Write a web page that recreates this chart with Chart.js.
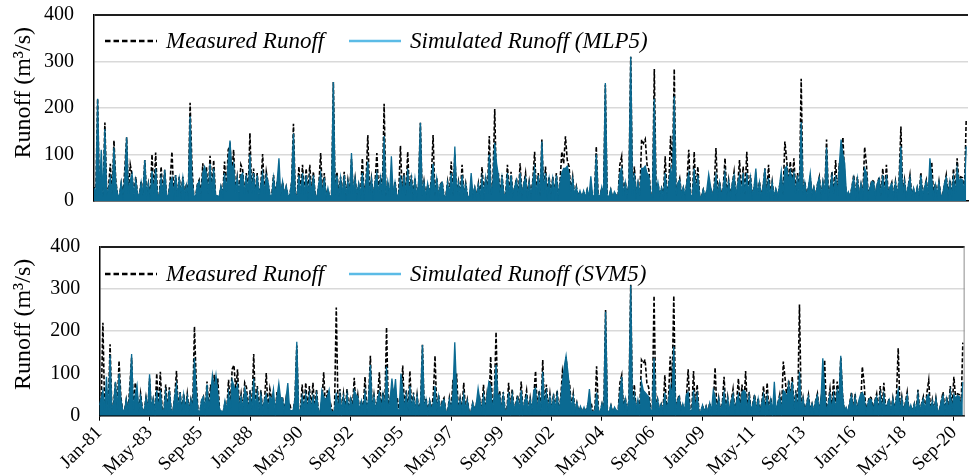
<!DOCTYPE html>
<html><head><meta charset="utf-8">
<script src="https://cdn.jsdelivr.net/npm/chart.js@4.4.1/dist/chart.umd.min.js"></script>
<style>
html,body{margin:0;padding:0;background:#fff;}
#wrap{position:relative;width:971px;height:476px;overflow:hidden;font-family:'Liberation Serif','Times New Roman',serif;}
.panel{position:absolute;left:0;width:971px;}
#p1{top:0;height:225px}
#p2{top:225px;height:251px}
canvas{display:block}
.legend{position:absolute;left:0;top:0;width:971px;height:0;pointer-events:none}
.item{position:absolute;display:flex;align-items:center;white-space:nowrap;font-style:italic;font-size:23px;color:#000;height:30px;}
.item svg{margin-right:9px;display:block}
</style></head>
<body><div id="wrap">
<div class="panel" id="p1"><canvas id="c1" width="971" height="225"></canvas><div class="legend" id="lg1"></div></div>
<div class="panel" id="p2"><canvas id="c2" width="971" height="251"></canvas><div class="legend" id="lg2"></div></div>
</div>
<script>
// Tick labels every 28 months starting Jan-1981
const tickLabels = ['Jan-81','May-83','Sep-85','Jan-88','May-90','Sep-92','Jan-95','May-97','Sep-99','Jan-02','May-04','Sep-06','Jan-09','May-11','Sep-13','Jan-16','May-18','Sep-20'];
const tickStepMonths = 28;
const yTicks = [0, 100, 200, 300, 400];

// Monthly runoff (m3/s), Jan-1981 .. Feb-2021, one row per year
const measured = [
30,10,220,12,60,8,169,15,28,80,12,130,
45,12,9,38,10,70,137,14,78,56,10,52,
15,8,43,10,88,12,38,9,100,14,104,12,
10,74,15,67,12,8,45,106,12,56,9,52,
14,52,10,38,12,211,78,10,8,35,45,12,
81,15,74,12,97,18,88,12,10,8,30,12,
85,20,110,120,60,110,18,52,15,78,67,12,
60,14,146,16,70,12,60,10,35,101,14,63,
38,12,9,56,14,40,45,10,40,12,30,10,
12,40,166,14,9,74,15,78,12,70,14,78,
15,63,10,8,35,103,12,60,8,25,7,12,
256,10,63,9,52,12,63,10,45,14,90,15,
49,10,35,14,92,12,40,142,12,49,10,40,
103,14,56,12,209,10,40,9,50,12,42,10,
12,119,15,60,10,106,14,55,10,50,9,35,
168,10,42,8,35,14,45,142,10,50,9,35,
42,10,8,42,12,85,10,100,12,42,14,78,
12,38,9,7,30,12,28,8,38,10,73,12,
52,14,140,12,42,198,16,60,12,56,14,10,
78,12,63,14,28,49,10,81,9,35,60,10,
42,12,45,106,12,60,10,132,15,74,14,52,
12,52,14,60,10,42,106,80,139,88,74,18,
52,12,31,9,20,7,20,6,24,8,30,9,
10,117,12,8,28,7,250,10,8,24,6,17,
12,9,78,96,10,42,12,35,310,10,74,14,
38,10,132,124,133,78,67,14,10,284,15,38,
12,27,10,96,14,35,140,60,284,10,35,49,
12,28,10,40,110,12,9,106,14,74,10,8,
24,8,22,7,30,9,28,114,12,42,10,28,
92,12,45,10,35,63,10,35,88,14,74,12,
106,14,56,10,28,50,10,42,8,30,70,9,
78,10,42,8,24,9,30,50,12,128,88,40,
85,40,92,14,60,12,263,14,42,10,28,50,
12,28,9,35,52,10,40,14,132,10,28,63,
14,88,10,81,40,137,50,10,17,8,30,56,
10,52,9,35,12,116,78,10,28,45,42,12,
35,52,10,70,12,78,14,28,40,10,42,12,
45,160,12,45,9,30,56,10,25,8,28,9,
61,10,28,45,12,55,84,10,38,12,42,10,
12,35,56,10,45,12,70,14,92,40,52,50,
14,173
];

const simulatedMLP5 = [
28,12,220,14,110,9,155,16,25,50,14,115,
40,14,10,40,12,50,137,15,45,58,12,45,
16,10,40,12,88,14,38,10,65,15,70,13,
12,50,16,67,13,9,40,50,14,55,10,48,
15,50,12,35,14,182,50,12,9,35,42,13,
60,74,60,15,80,18,70,13,11,9,32,14,
60,20,85,130,65,80,18,50,16,55,60,14,
55,15,100,16,60,13,55,12,35,60,15,55,
40,13,10,50,15,42,92,11,42,14,32,11,
13,42,145,15,10,55,16,60,13,55,15,50,
16,55,12,9,38,60,13,50,9,28,8,13,
256,12,55,10,50,13,55,11,42,15,103,16,
48,12,38,15,60,13,42,85,13,48,11,42,
60,15,50,13,140,11,42,10,96,13,40,11,
13,55,16,55,11,70,15,50,11,48,10,38,
168,11,40,9,38,15,42,80,11,48,10,35,
40,11,9,40,13,60,11,117,13,40,15,55,
13,35,10,8,60,13,30,9,35,11,50,13,
50,15,100,13,40,125,81,55,13,50,15,11,
60,13,55,15,30,45,11,60,10,38,50,11,
40,13,42,70,13,55,11,128,16,60,15,48,
13,48,15,55,11,40,60,70,70,75,60,18,
48,13,30,10,22,8,22,7,25,9,53,10,
11,100,13,9,30,8,254,11,9,25,7,20,
13,10,60,70,11,40,13,38,310,11,60,15,
40,11,70,70,75,60,55,15,11,220,16,40,
13,28,11,60,15,38,70,45,225,11,38,45,
13,30,11,42,60,13,10,70,15,55,11,9,
25,9,25,58,32,10,30,55,13,40,11,30,
60,13,42,11,38,55,11,38,55,15,60,13,
60,15,50,11,30,70,11,40,9,32,70,10,
50,11,40,9,26,10,32,63,13,70,75,42,
65,42,60,15,55,13,170,15,40,11,30,60,
13,30,10,38,50,11,42,15,115,11,30,55,
15,55,11,75,132,100,81,11,20,9,32,50,
11,48,10,38,13,70,60,11,30,42,40,13,
38,48,11,55,13,56,15,30,38,11,40,13,
42,117,13,42,10,32,50,11,28,9,30,10,
55,11,30,42,13,92,50,11,35,13,40,11,
13,38,50,11,42,13,50,15,70,42,48,45,
15,117
];

const simulatedSVM5 = [
25,41,60,13,92,10,143,16,28,80,14,100,
40,14,10,38,12,55,146,14,50,72,11,45,
15,11,42,12,98,14,40,10,60,15,60,13,
12,55,16,60,13,9,45,73,14,55,10,50,
14,45,12,38,13,136,55,12,9,38,45,13,
74,16,50,96,60,96,55,14,11,9,35,14,
55,18,84,70,60,73,17,45,15,65,50,13,
50,15,88,16,55,13,50,11,38,50,15,45,
35,63,10,45,77,40,42,11,40,77,14,11,
13,40,175,14,10,45,16,50,13,50,15,45,
16,50,12,9,60,45,37,45,61,13,8,13,
55,12,50,10,45,13,50,11,40,14,60,50,
45,12,35,15,55,13,40,120,13,45,11,40,
55,15,50,13,116,11,40,88,45,87,15,12,
100,60,16,50,11,70,15,45,11,45,10,35,
167,11,38,9,35,14,30,70,11,45,10,32,
38,11,9,38,13,55,174,60,12,38,14,50,
13,35,10,8,30,13,28,65,35,11,48,12,
48,80,70,13,50,120,45,50,12,48,14,10,
55,12,50,14,28,42,11,60,10,35,48,11,
38,13,60,65,12,50,11,104,15,55,14,45,
12,45,14,50,11,38,80,116,142,104,60,17,
45,12,30,10,22,8,20,7,25,63,12,9,
11,55,12,9,28,8,246,11,9,25,7,20,
12,10,55,92,11,40,12,35,308,11,50,14,
38,11,80,60,55,50,45,14,11,136,15,38,
12,27,11,55,14,35,70,42,163,11,35,45,
12,28,11,50,55,12,10,60,14,50,11,9,
25,9,22,8,30,10,60,45,12,40,11,28,
55,12,42,11,35,50,11,35,50,14,55,60,
55,14,48,11,28,45,11,40,9,30,50,10,
45,11,38,9,80,10,30,45,12,60,55,40,
75,40,80,14,50,12,104,14,40,11,28,45,
12,28,10,35,48,11,40,136,60,11,28,50,
14,50,11,60,40,142,50,11,20,9,30,48,
11,45,10,35,50,55,45,11,28,40,38,12,
35,45,11,50,12,50,14,28,38,11,40,12,
42,61,12,40,10,30,48,11,25,9,28,10,
50,11,28,40,12,45,50,11,35,12,40,11,
12,35,48,11,40,12,55,14,50,40,48,45,
14,80
];

const FONT = "'Liberation Serif','Times New Roman',serif";
Chart.defaults.font.family = FONT;
Chart.defaults.color = '#000';

const TEAL = '#0b6a92';
const LIGHTBLUE = '#5bbbe6';

const xy = arr => arr.map((v, i) => ({ x: i, y: v }));

const htmlLegend = {
  id: 'htmlLegend',
  afterUpdate(chart, args, opts) {
    const box = document.getElementById(opts.containerID);
    if (!box) return;
    box.innerHTML = '';
    chart.data.datasets.forEach((d, i) => {
      const item = document.createElement('div');
      item.className = 'item';
      item.style.left = opts.xs[i] + 'px';
      item.style.top = (opts.y - 15) + 'px';
      const dash = d.borderDash && d.borderDash.length ? 'stroke-dasharray="5.5 3"' : '';
      item.innerHTML = '<svg width="52" height="6"><line x1="0" y1="3" x2="52" y2="3" stroke="' + d.legendColor + '" stroke-width="2.5" ' + dash + '/></svg>';
      const span = document.createElement('span');
      span.textContent = d.label;
      item.appendChild(span);
      box.appendChild(item);
    });
  }
};

const rightFrame = {
  id: 'rightFrame',
  afterDraw(chart, args, opts) {
    if (!opts.show) return;
    const { ctx, chartArea: a } = chart;
    ctx.save();
    ctx.strokeStyle = '#8c8c8c';
    ctx.lineWidth = 1;
    ctx.beginPath();
    ctx.moveTo(a.right - 0.5, a.top);
    ctx.lineTo(a.right - 0.5, a.bottom);
    ctx.stroke();
    ctx.restore();
  }
};

function makeChart(canvasId, legendId, simLabel, simValues, cfg) {
  return new Chart(document.getElementById(canvasId), {
    type: 'line',
    data: {
      datasets: [
        { label: 'Measured Runoff', data: xy(measured), borderColor: '#000', borderWidth: 1.6,
          borderDash: [4, 2], pointRadius: 0, fill: false, order: 1, legendColor: '#000' },
        { label: simLabel, data: xy(simValues), borderColor: TEAL, borderWidth: 1.3,
          pointRadius: 0, fill: 'origin', backgroundColor: TEAL, order: 0, legendColor: LIGHTBLUE }
      ]
    },
    options: {
      responsive: false, animation: false, events: [],
      layout: { padding: { top: cfg.padTop, right: cfg.padRight, left: 0, bottom: 0 } },
      plugins: {
        legend: { display: false }, tooltip: { enabled: false },
        htmlLegend: { containerID: legendId, xs: [105, 349], y: cfg.legendY },
        rightFrame: { show: cfg.rightFrame }
      },
      scales: {
        x: {
          type: 'linear', min: 0, max: 482,
          ticks: {
            display: cfg.showX, stepSize: tickStepMonths, includeBounds: false, autoSkip: false,
            minRotation: 45, maxRotation: 45, font: { size: 19 }, color: '#000', padding: 1,
            callback: v => tickLabels[Math.round(v / tickStepMonths)] ?? ''
          },
          grid: { display: true, drawOnChartArea: false, drawTicks: cfg.showX, tickLength: 5, color: '#000' },
          border: { color: '#000', width: 1.5 },
          afterFit: s => { s.height = cfg.xHeight; }
        },
        y: {
          min: 0, max: 400,
          afterBuildTicks: s => { s.ticks = yTicks.map(v => ({ value: v })); },
          ticks: { font: { size: 20 }, color: '#000', padding: 2 },
          grid: {
            drawTicks: true, tickLength: cfg.yPad, tickColor: 'rgba(0,0,0,0)',
            color: c => c.tick.value === 400 ? '#1e1e1e' : '#d9d9d9',
            lineWidth: c => c.tick.value === 400 ? 2 : 1.5
          },
          border: { color: '#000', width: 1.5 },
          title: { display: true, text: 'Runoff (m³/s)  ', align: 'end', font: { size: 24 }, color: '#000',
                   padding: { top: 9, bottom: 0 } },
          afterFit: s => { s.width = cfg.yWidth; }
        }
      }
    },
    plugins: [htmlLegend, rightFrame]
  });
}

makeChart('c1', 'lg1', 'Simulated Runoff (MLP5)', simulatedMLP5,
  { padTop: 15, padRight: 3, legendY: 41, showX: false, xHeight: 24, yWidth: 94, yPad: 18, rightFrame: false });
makeChart('c2', 'lg2', 'Simulated Runoff (SVM5)', simulatedSVM5,
  { padTop: 21.7, padRight: 1, legendY: 49.3, showX: true, xHeight: 60.3, yWidth: 99.3, yPad: 17, rightFrame: true });
</script>
</body></html>
